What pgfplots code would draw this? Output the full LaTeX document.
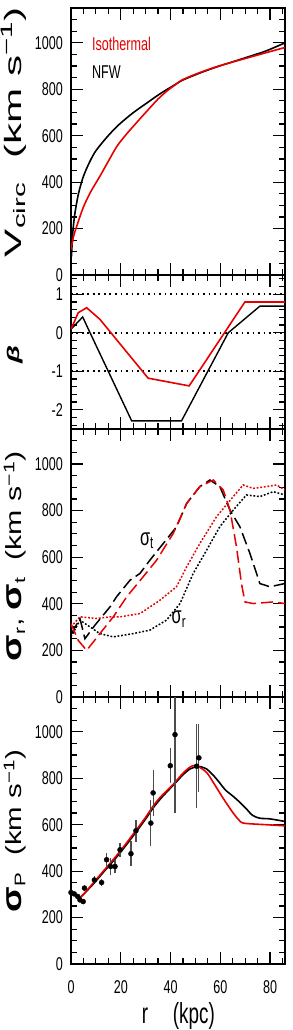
\documentclass[border=0pt]{standalone}
\usepackage{pgfplots}
\pgfplotsset{compat=1.18}
\usepackage{fontspec}
\setmainfont{Liberation Sans}
\newfontfamily\condf[FakeStretch=0.68]{Liberation Sans}
\newcommand\tickfont{\condf\fontsize{18.5pt}{18.5pt}\selectfont}
\definecolor{isored}{RGB}{230,0,0}
\pgfplotsset{
  every axis/.append style={
    scale only axis, width=214pt,
    xmin=0, xmax=86,
    xtick={0,20,40,60,80},
    minor xtick={0,5,...,85},
    major tick length=12pt, minor tick length=6pt,
    axis line style={line width=1.6pt},
    every tick/.style={line width=1.2pt, black},
    tick align=inside,
    /pgf/number format/assume math mode=true,
    /pgf/number format/1000 sep={},
    ticklabel style={font=\tickfont},
    yticklabel style={anchor=east, inner sep=0pt, xshift=-8pt},
    xticklabel style={anchor=north, inner sep=0pt, yshift=-16pt},
  },
}
\begin{document}
\begin{tikzpicture}
\path[use as bounding box] (0,0) rectangle (292pt,-1030pt);
% Panel 1
\begin{axis}[name=p1, at={(71pt,-8pt)}, anchor=north west, height=267pt,
  ymin=0, ymax=1150, ytick={0,200,...,1000}, minor ytick={0,50,...,1150},
  xticklabels={},
  ylabel={\resizebox{250pt}{\height}{\fontsize{23.7pt}{24pt}\selectfont V\textsubscript{circ}\ \ (km s\textsuperscript{−1})}},
  ylabel style={at={(axis description cs:-0.229,0.5356)}, anchor=base, rotate=0},
]
\addplot[black, line width=1.6pt, smooth, tension=0.5] coordinates {(0.2,80)(0.7,180)(1.5,260)(3,350)(5,425)(7.5,487)(10,535)(14.3,592)(18.3,638)(22,673)(25,699)(27.7,720)(31.7,750)(35,775)(38.4,798)(42,821)(45,840)(51.8,870)(58.5,896)(65.2,919)(71.9,942)(78.6,966)(86,1000)};
\addplot[isored, line width=1.6pt, smooth, tension=0.5] coordinates {(0,110)(1,165)(2.3,210)(5,293)(8,360)(11.6,425)(15,490)(18.5,555)(22,603)(25,640)(28.5,682)(31.7,720)(35,758)(38.4,791)(42,820)(45,842)(51.8,872)(58.5,897)(65.2,918)(71.9,938)(78.6,958)(86,980)};
\node[anchor=base west, inner sep=0pt, text=isored, font=\tickfont] at (axis cs:8.4,966) {Isothermal};
\node[anchor=base west, inner sep=0pt, font=\tickfont] at (axis cs:8.4,845) {NFW};
\end{axis}
% Panel 2
\begin{axis}[name=p2, at={(p1.south west)}, anchor=north west, height=154pt,
  ymin=-2.5, ymax=1.5, ytick={-2,-1,0,1},
  minor ytick={-2.4,-2.2,-1.8,-1.6,-1.4,-1.2,-0.8,-0.6,-0.4,-0.2,0.2,0.4,0.6,0.8,1.2,1.4},
  xticklabels={},
  ylabel={\resizebox{18pt}{\height}{\fontsize{17pt}{17pt}\selectfont\bfseries\itshape β}},
  ylabel style={at={(axis description cs:-0.262,0.487)}, anchor=center, rotate=0},
]
\addplot[black, line width=1.9pt, dash pattern=on 1.9pt off 3.6pt] coordinates {(0,1)(86,1)};
\addplot[black, line width=1.9pt, dash pattern=on 1.9pt off 3.6pt] coordinates {(0,0)(86,0)};
\addplot[black, line width=1.9pt, dash pattern=on 1.9pt off 3.6pt] coordinates {(0,-1)(86,-1)};
\addplot[black, line width=1.4pt] coordinates {(0,0.09)(4.7,0.41)(7,0.09)(24.4,-2.29)(44.4,-2.29)(63.2,0)(75.9,0.69)(86,0.69)};
\addplot[isored, line width=1.6pt] coordinates {(0,0.09)(2.9,0.52)(6.3,0.65)(11.6,0.35)(31,-1.18)(47.5,-1.38)(69.9,0.8)(86,0.8)};
\end{axis}
% Panel 3
\begin{axis}[name=p3, at={(p2.south west)}, anchor=north west, height=268pt,
  ymin=0, ymax=1150, ytick={0,200,...,1000}, minor ytick={0,50,...,1150},
  xticklabels={},
  ylabel={\resizebox{210pt}{\height}{\fontsize{22pt}{22pt}\selectfont{\fontsize{28pt}{28pt}\selectfont\bfseries σ}\textsubscript{r},\ {\fontsize{28pt}{28pt}\selectfont\bfseries σ}\textsubscript{t}\ \ (km s\textsuperscript{−1})}},
  ylabel style={at={(axis description cs:-0.229,0.5256)}, anchor=base, rotate=0},
]
% black dotted sigma_r (NFW)
\addplot[black, line width=1.5pt, dash pattern=on 1.8pt off 1.8pt] coordinates {(0,258)(3.6,330)(7.6,301)(11.6,272)(17,258)(25,272)(31.7,287)(38.4,330)(43.8,401)(49.1,530)(54.5,630)(59.8,731)(65.2,802)(70.5,867)(75.9,860)(81.3,881)(86,867)};
% red dotted sigma_r (Iso)
\addplot[isored, line width=1.5pt, dash pattern=on 1.8pt off 1.8pt] coordinates {(0,301)(3.6,344)(10.3,337)(15.7,344)(19.7,344)(27.7,358)(35.7,415)(42.4,473)(46.5,559)(51.8,659)(58.5,774)(65.2,860)(69.2,910)(73.2,895)(78.6,903)(82.6,910)(86,888)};
% black dashed sigma_t (NFW)
\addplot[black, line width=1.5pt, dash pattern=on 12pt off 5pt] coordinates {(0.2,272)(3.6,337)(5.6,250)(9.6,308)(15.7,387)(18.3,430)(23.7,501)(27.7,530)(31.7,587)(37.1,659)(42.4,730)(46.5,831)(51.8,903)(55.8,931)(59.8,903)(63.9,802)(67.9,730)(71.9,616)(75.9,487)(79.9,473)(86,487)};
% red dashed sigma_t (Iso)
\addplot[isored, line width=1.5pt, dash pattern=on 12pt off 5pt] coordinates {(0,315)(2.9,243)(6.3,200)(11.6,272)(17,344)(22.4,430)(29,516)(34.4,587)(41.1,702)(46.5,831)(51.8,903)(57.2,931)(61.2,888)(63.9,802)(66.5,645)(68.5,487)(69.9,408)(73.2,401)(81.3,408)(86,401)};
\node[anchor=base west, inner sep=0pt, font=\condf\fontsize{24pt}{24pt}\selectfont] at (axis cs:27.7,652) {σ\textsubscript{t}};
\node[anchor=base west, inner sep=0pt, font=\condf\fontsize{24pt}{24pt}\selectfont] at (axis cs:40.4,315) {σ\textsubscript{r}};
\end{axis}
% Panel 4
\begin{axis}[name=p4, at={(p3.south west)}, anchor=north west, height=267pt,
  ymin=0, ymax=1150, ytick={0,200,...,1000}, minor ytick={0,50,...,1150},
  ylabel={\resizebox{162pt}{\height}{\fontsize{22pt}{22pt}\selectfont{\fontsize{28pt}{28pt}\selectfont\bfseries σ}\textsubscript{P}\ \ (km s\textsuperscript{−1})}},
  ylabel style={at={(axis description cs:-0.229,0.498)}, anchor=base, rotate=0},
  xlabel={\scalebox{0.65}[1]{\fontsize{29pt}{29pt}\selectfont r\hspace{1.32em}(kpc)}},
  xlabel style={at={(axis description cs:0.330,-0.221)}, anchor=base west, inner sep=0pt},
]
\addplot[black, line width=1.6pt, smooth, tension=0.5] coordinates {(3.5,285)(5,300)(9,345)(13,395)(18.3,460)(22,510)(26.4,572)(30,625)(33,672)(36,712)(40,758)(42.4,785)(45,815)(47.8,840)(50.5,850)(52,850)(54.5,840)(57,815)(59.8,780)(62,750)(65.2,722)(68,695)(70.5,668)(73,640)(75.9,628)(80,625)(86,614)};
\addplot[isored, line width=1.6pt, smooth, tension=0.5] coordinates {(3.5,285)(5,300)(9,350)(13,400)(18.3,467)(22,517)(26.4,580)(30,632)(33,680)(36,720)(40,762)(42.4,790)(45,822)(47.8,848)(49.5,855)(51,852)(54.5,825)(57,785)(59.8,737)(62,700)(65.2,650)(67.5,620)(69.2,607)(75,602)(78.6,600)(86,595)};
\addplot[only marks, mark=*, mark size=2.5pt, black,
  error bars/.cd, y dir=both, y explicit,
  error bar style={line width=1.2pt, black!70}, error mark=none]
  coordinates {
  (0,308) +- (0,10)
  (1.3,302) +- (0,10)
  (2.7,291) +- (0,10)
  (3.6,276) +- (0,10)
  (4.9,269) +- (0,10)
  (5.4,327) +- (0,12)
  (9.4,362) +- (0,15)
  (12.3,351) +- (0,15)
  (14.3,449) +- (0,30)
  (15.9,420) +- (0,35)
  (17.7,420) +- (0,30)
  (19.7,492) +- (0,30)
  (24.1,475) +- (0,55)
  (26.1,574) +- (0,47)
  (32.1,607) +- (0,100)
  (33,737) +- (0,100)
  (39.9,854) +- (0,75)
  (41.8,988) +- (0,338)
  (50.5,852) +- (0,180)
  (51.4,888) +- (0,145)
  };
\end{axis}
\end{tikzpicture}
\end{document}
